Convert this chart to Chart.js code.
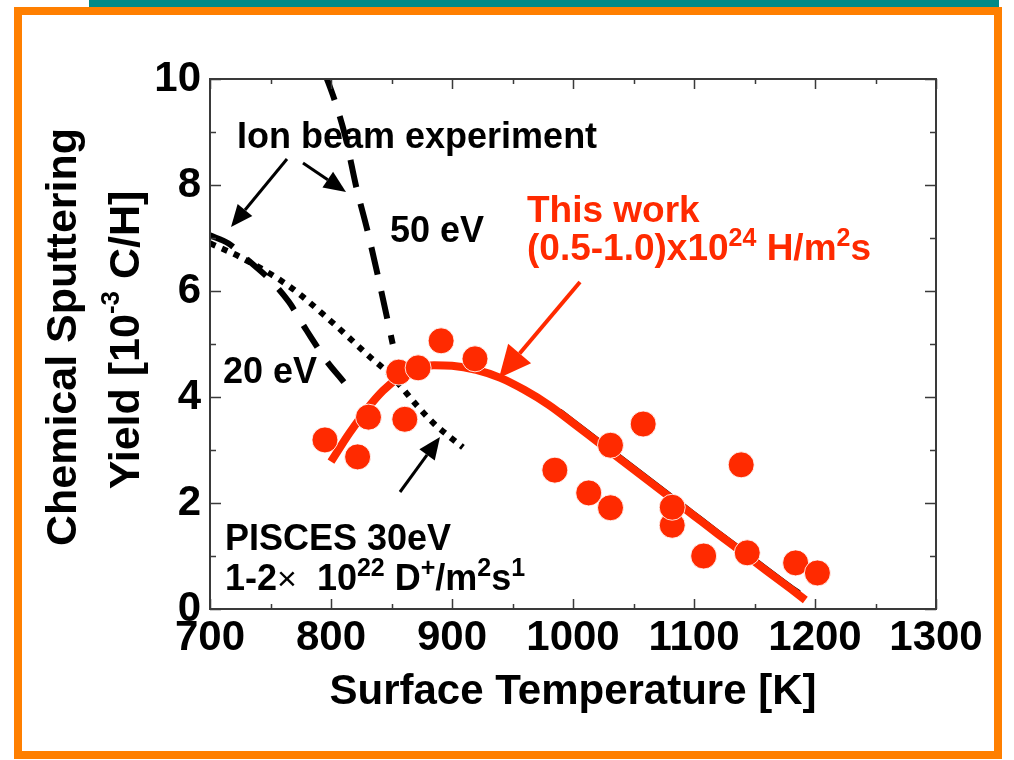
<!DOCTYPE html>
<html>
<head>
<meta charset="utf-8">
<title>Chemical sputtering yield vs surface temperature</title>
<script src="https://cdn.jsdelivr.net/npm/chart.js@4.4.1/dist/chart.umd.min.js"></script>
<style>
  html, body { margin: 0; padding: 0; background: #fff; overflow: hidden; }
  canvas { display: block; }
</style>
</head>
<body>
<canvas id="chart" width="1014" height="760"></canvas>
<script>
const FONT = "'Liberation Sans', Arial, Helvetica, sans-serif";
const RED = '#ff2a00';
const INK = '#000000';

// Axis ticks
const xTickValues = [700, 800, 900, 1000, 1100, 1200, 1300];
const yTickValues = [0, 2, 4, 6, 8, 10];

// This work: measured yield (1e-3 C/H) vs surface temperature (K)
const workTemp  = [795, 822, 831, 856, 861, 872, 891, 919, 985, 1013, 1031, 1031, 1058, 1082, 1082, 1108, 1139, 1144, 1184, 1202];
const workYield = [3.19, 2.87, 3.62, 4.47, 3.58, 4.55, 5.06, 4.72, 2.62, 2.19, 1.91, 3.09, 3.49, 1.58, 1.92, 1.00, 2.72, 1.06, 0.87, 0.68];

// This work: fitted trend
const fitTemp  = [800, 815, 830, 843, 857, 870, 885, 900, 920, 940, 960, 980, 1000, 1020, 1040, 1060, 1080, 1100, 1120, 1140, 1160, 1180, 1192];
const fitYield = [2.78, 3.31, 3.78, 4.12, 4.38, 4.52, 4.60, 4.59, 4.51, 4.36, 4.13, 3.85, 3.51, 3.16, 2.81, 2.46, 2.11, 1.76, 1.41, 1.07, 0.72, 0.38, 0.17];

// Thin reference curve running along the fit at high temperature
const refTemp  = [990, 1000, 1020, 1040, 1060, 1080, 1100, 1120, 1140, 1160, 1180, 1188];
const refYield = [3.76, 3.59, 3.24, 2.89, 2.54, 2.19, 1.84, 1.49, 1.15, 0.80, 0.46, 0.33];

// Ion beam experiment, 50 eV
const ion50Temp  = [795, 803, 812, 821, 830, 839, 848, 851];
const ion50Yield = [10.1, 9.6, 8.9, 7.95, 7.15, 6.26, 5.32, 5.0];

// Ion beam experiment, 20 eV
const ion20Temp  = [700, 715, 733, 751, 765, 780, 797, 810, 818];
const ion20Yield = [7.05, 6.9, 6.55, 6.18, 5.8, 5.25, 4.66, 4.3, 4.05];

// PISCES, 30 eV
const piscesTemp  = [700, 725, 766, 799, 832, 850, 871, 885, 898, 909];
const piscesYield = [6.9, 6.64, 6.08, 5.45, 4.76, 4.4, 3.84, 3.5, 3.25, 3.05];

const toPoints = (xs, ys) => xs.map((x, i) => ({ x: x, y: ys[i] }));

function font(size, weight) {
  return (weight || 'bold') + ' ' + size + 'px ' + FONT;
}

// Draw a sequence of text runs (with optional raised superscripts) starting at x
function drawRuns(ctx, runs, x, y) {
  let cx = x;
  for (const r of runs) {
    ctx.font = r.font;
    ctx.fillText(r.t, cx, y - (r.up || 0));
    cx += ctx.measureText(r.t).width;
  }
  return cx;
}
function runsWidth(ctx, runs) {
  let w = 0;
  for (const r of runs) { ctx.font = r.font; w += ctx.measureText(r.t).width; }
  return w;
}

function arrow(ctx, x1, y1, x2, y2, color, lw, headLen, headW) {
  const a = Math.atan2(y2 - y1, x2 - x1);
  const bx = x2 - headLen * Math.cos(a), by = y2 - headLen * Math.sin(a);
  ctx.save();
  ctx.strokeStyle = color; ctx.fillStyle = color; ctx.lineWidth = lw; ctx.lineCap = 'butt';
  ctx.beginPath(); ctx.moveTo(x1, y1); ctx.lineTo(bx, by); ctx.stroke();
  ctx.beginPath();
  ctx.moveTo(x2, y2);
  ctx.lineTo(bx + headW / 2 * Math.sin(a), by - headW / 2 * Math.cos(a));
  ctx.lineTo(bx - headW / 2 * Math.sin(a), by + headW / 2 * Math.cos(a));
  ctx.closePath(); ctx.fill();
  ctx.restore();
}

// Slide frame, plot box with inward ticks, axis titles and annotations
const decorations = {
  id: 'decorations',
  beforeDraw(chart) {
    const ctx = chart.ctx;
    ctx.save();
    ctx.fillStyle = '#ffffff';
    ctx.fillRect(0, 0, chart.width, chart.height);
    ctx.fillStyle = '#008a87';
    ctx.fillRect(89, 0, 910, 8);
    ctx.strokeStyle = '#ff7f00';
    ctx.lineWidth = 8;
    ctx.strokeRect(18, 11, 980, 744);
    ctx.restore();
  },
  afterDraw(chart) {
    const ctx = chart.ctx;
    const xs = chart.scales.x, ys = chart.scales.y;
    const a = chart.chartArea;
    ctx.save();

    // plot box and inward ticks
    ctx.strokeStyle = '#3a3a3a';
    ctx.lineWidth = 2;
    ctx.strokeRect(a.left, a.top, a.right - a.left, a.bottom - a.top);
    ctx.beginPath();
    for (let t = 700; t <= 1300; t += 50) {
      const px = Math.round(xs.getPixelForValue(t)) + 0.5;
      const len = (t % 100 === 0) ? 10 : 5;
      ctx.moveTo(px, a.bottom); ctx.lineTo(px, a.bottom - len);
      ctx.moveTo(px, a.top); ctx.lineTo(px, a.top + len);
    }
    for (let v = 0; v <= 10; v += 1) {
      const py = Math.round(ys.getPixelForValue(v)) + 0.5;
      const len = (v % 2 === 0) ? 11 : 6;
      ctx.moveTo(a.left, py); ctx.lineTo(a.left + len, py);
      ctx.moveTo(a.right, py); ctx.lineTo(a.right - len, py);
    }
    ctx.lineWidth = 1.5;
    ctx.stroke();

    ctx.fillStyle = INK;
    ctx.textBaseline = 'alphabetic';

    // x axis title
    ctx.font = font(42);
    ctx.textAlign = 'center';
    ctx.fillText('Surface Temperature [K]', (a.left + a.right) / 2, 704);
    ctx.textAlign = 'left';

    // y axis title (two rotated lines)
    const line1 = [{ t: 'Chemical Sputtering', font: font(43) }];
    const line2 = [
      { t: 'Yield [10', font: font(43) },
      { t: '-3', font: font(26), up: 20 },
      { t: ' C/H]', font: font(43) }
    ];
    [[line1, 76, 337], [line2, 139, 340]].forEach(([runs, bx, cy]) => {
      ctx.save();
      ctx.translate(bx, cy);
      ctx.rotate(-Math.PI / 2);
      const w = runsWidth(ctx, runs);
      drawRuns(ctx, runs, -w / 2, 0);
      ctx.restore();
    });

    // annotations
    ctx.fillStyle = INK;
    ctx.font = font(36);
    ctx.fillText('Ion beam experiment', 237, 148);
    ctx.fillText('50 eV', 390, 242);
    ctx.fillText('20 eV', 223, 383);
    ctx.fillText('PISCES 30eV', 225, 550);
    drawRuns(ctx, [
      { t: '1-2', font: font(36) },
      { t: '\u00d7', font: font(34, 'normal') },
      { t: '  10', font: font(36) },
      { t: '22', font: font(25), up: 14 },
      { t: ' D', font: font(36) },
      { t: '+', font: font(25), up: 14 },
      { t: '/m', font: font(36) },
      { t: '2', font: font(25), up: 14 },
      { t: 's', font: font(36) },
      { t: '1', font: font(25), up: 14 }
    ], 225, 590);

    ctx.fillStyle = RED;
    ctx.font = font(37);
    ctx.fillText('This work', 527, 222);
    drawRuns(ctx, [
      { t: '(0.5-1.0)x10', font: font(37) },
      { t: '24', font: font(25), up: 14 },
      { t: ' H/m', font: font(37) },
      { t: '2', font: font(25), up: 14 },
      { t: 's', font: font(37) }
    ], 527, 260);

    // arrows
    arrow(ctx, 287, 159, 231, 227, INK, 3, 22, 19);
    arrow(ctx, 303, 163, 346, 192, INK, 3, 22, 19);
    arrow(ctx, 400, 492, 440, 437, INK, 3, 22, 19);
    arrow(ctx, 580, 282, 499, 378, RED, 4, 32, 30);

    ctx.restore();
  }
};

const tickFont = { family: FONT, size: 42, weight: 'bold' };

new Chart(document.getElementById('chart'), {
  type: 'scatter',
  data: {
    datasets: [
      {
        label: 'This work',
        data: toPoints(workTemp, workYield),
        pointRadius: 13,
        pointHoverRadius: 13,
        pointBackgroundColor: RED,
        pointBorderColor: 'rgba(255,255,255,0.85)',
        pointBorderWidth: 1,
        showLine: false,
        order: 0
      },
      {
        label: 'Fit',
        data: toPoints(fitTemp, fitYield),
        showLine: true,
        borderColor: RED,
        borderWidth: 8,
        borderCapStyle: 'butt',
        pointRadius: 0,
        cubicInterpolationMode: 'monotone',
        clip: 0,
        order: 1
      },
      {
        label: 'Reference curve',
        data: toPoints(refTemp, refYield),
        showLine: true,
        borderColor: INK,
        borderWidth: 1.5,
        pointRadius: 0,
        cubicInterpolationMode: 'monotone',
        clip: 0,
        order: 2
      },
      {
        label: 'Ion beam 50 eV',
        data: toPoints(ion50Temp, ion50Yield),
        showLine: true,
        borderColor: INK,
        borderWidth: 6,
        borderDash: [28, 17],
        borderCapStyle: 'butt',
        pointRadius: 0,
        cubicInterpolationMode: 'monotone',
        clip: 0,
        order: 3
      },
      {
        label: 'Ion beam 20 eV',
        data: toPoints(ion20Temp, ion20Yield),
        showLine: true,
        borderColor: INK,
        borderWidth: 6,
        borderDash: [26, 18],
        borderCapStyle: 'butt',
        pointRadius: 0,
        cubicInterpolationMode: 'monotone',
        clip: 0,
        order: 3
      },
      {
        label: 'PISCES 30 eV',
        data: toPoints(piscesTemp, piscesYield),
        showLine: true,
        borderColor: INK,
        borderWidth: 6,
        borderDash: [6, 7],
        borderCapStyle: 'butt',
        pointRadius: 0,
        cubicInterpolationMode: 'monotone',
        clip: 0,
        order: 3
      }
    ]
  },
  options: {
    responsive: false,
    animation: false,
    events: [],
    layout: { padding: { top: 79, right: 78, left: 0, bottom: 0 } },
    plugins: { legend: { display: false }, tooltip: { enabled: false } },
    scales: {
      x: {
        type: 'linear',
        min: 700,
        max: 1300,
        afterBuildTicks: (s) => { s.ticks = xTickValues.map(v => ({ value: v })); },
        afterFit: (s) => { s.height = 151; },
        ticks: { font: tickFont, color: INK, padding: 4, maxRotation: 0, autoSkip: false, callback: (v) => String(v) },
        grid: { display: false, drawTicks: false, tickLength: 0 },
        border: { display: false }
      },
      y: {
        type: 'linear',
        min: 0,
        max: 10,
        afterBuildTicks: (s) => { s.ticks = yTickValues.map(v => ({ value: v })); },
        afterFit: (s) => { s.width = 210; },
        ticks: { font: tickFont, color: INK, padding: 9, autoSkip: false, callback: (v) => String(v) },
        grid: { display: false, drawTicks: false, tickLength: 0 },
        border: { display: false }
      }
    }
  },
  plugins: [decorations]
});
</script>
</body>
</html>
